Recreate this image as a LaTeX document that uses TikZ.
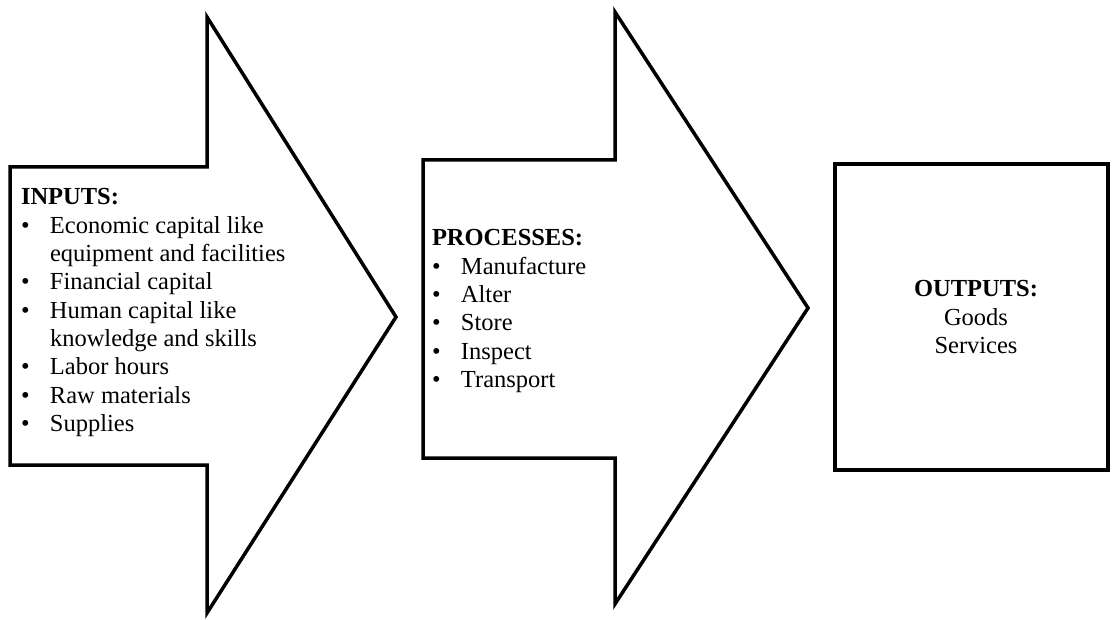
\documentclass[tikz,border=0pt]{standalone}
\usepackage{fontspec}
\setmainfont{Liberation Serif}
\newcommand\blt{\makebox[29pt][l]{\textbullet}}
\newcommand\ind{\hspace*{29pt}}
\begin{document}
\begin{tikzpicture}[x=1pt,y=-1pt,
  shapeline/.style={draw=black,line width=3.5pt,line join=miter},
  txt/.style={inner sep=0pt,outer sep=0pt,font=\fontsize{24.5}{28.3}\selectfont}]
\useasboundingbox (0,0) rectangle (1112,620);
% arrow 1
\draw[shapeline] (10,167) -- (207,167) -- (207,17) -- (396,317) -- (207,613) -- (207,465) -- (10,465) -- cycle;
% arrow 2
\draw[shapeline] (423,160) -- (615,160) -- (615,12) -- (808,308) -- (615,604) -- (615,458) -- (423,458) -- cycle;
% box
\draw[shapeline] (835,164) rectangle (1108,470);
\node[txt,anchor=base west] (inputs) at (21,205) {\begin{tabular}[t]{@{}l@{}}
\textbf{INPUTS:}\\
\blt Economic capital like\\
\ind equipment and facilities\\
\blt Financial capital\\
\blt Human capital like\\
\ind knowledge and skills\\
\blt Labor hours\\
\blt Raw materials\\
\blt Supplies
\end{tabular}};
\node[txt,anchor=base west] (processes) at (432,246) {\begin{tabular}[t]{@{}l@{}}
\textbf{PROCESSES:}\\
\blt Manufacture\\
\blt Alter\\
\blt Store\\
\blt Inspect\\
\blt Transport
\end{tabular}};
\node[txt,anchor=base] (outputs) at (976,297) {\begin{tabular}[t]{@{}c@{}}
\textbf{OUTPUTS:}\\
Goods\\
Services
\end{tabular}};
\end{tikzpicture}
\end{document}
